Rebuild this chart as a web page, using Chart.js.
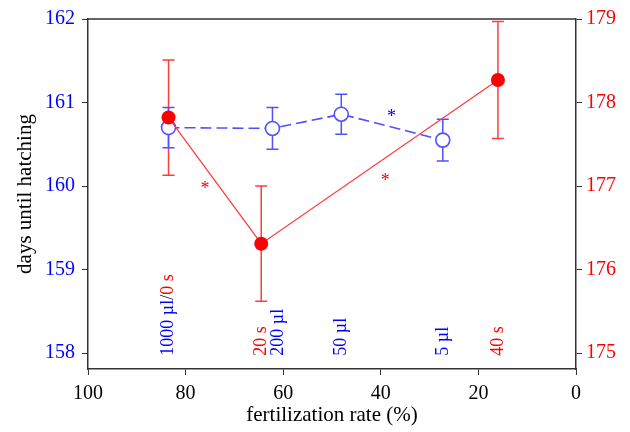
<!DOCTYPE html>
<html>
<head>
<meta charset="utf-8">
<script src="https://cdn.jsdelivr.net/npm/chart.js@4/dist/chart.umd.min.js"></script>
<style>
  body { margin: 0; background: #fff; }
  #wrap { width: 630px; height: 432px; }
</style>
</head>
<body>
<div id="wrap"><canvas id="hatchChart" width="630" height="432"></canvas></div>
<script>
// fertilization rate (%) and days until hatching
var fertBlue = [83.5, 62.2, 48.1, 27.3];
var daysBlue = [160.70, 160.69, 160.86, 160.55];
var errBlue = [0.24, 0.25, 0.24, 0.25];

var fertRed = [83.5, 64.5, 16.0];
var daysRed = [177.82, 176.31, 178.27];
var errRed = [0.69, 0.69, 0.70];

var xTicks = [100, 80, 60, 40, 20, 0];
var yTicksLeft = [158, 159, 160, 161, 162];
var yTicksRight = [175, 176, 177, 178, 179];

// rotated treatment labels (b = sperm volume, r = time, k = separator)
var labelX = [83.5, 64.5, 61.0, 48.1, 27.3, 16.0];
var labelText = [['1000 µl', '/', '0 s'], ['20 s'], ['200 µl'], ['50 µl'], ['5 µl'], ['40 s']];
var labelKind = [['b', 'k', 'r'], ['r'], ['b'], ['b'], ['b'], ['r']];

// significance asterisks
var starX = [76.0, 37.8, 39.1];
var starY = [160.01, 160.87, 160.11];
var starKind = ['r', 'b', 'r'];

var BLUE = '#0000ff';
var RED = '#ff0000';
var BLUE_LINE = 'rgb(80, 80, 255)';
var RED_LINE = 'rgb(255, 60, 60)';
var kindColor = { b: BLUE, r: RED, k: '#000' };
var serif = '"Liberation Serif", "DejaVu Serif", serif';

var toPoints = function (xs, ys) {
    return xs.map(function (x, i) { return { x: x, y: ys[i] }; });
};

var extras = {
    id: 'extras',
    beforeDatasetsDraw: function (chart) {
        var ctx = chart.ctx;
        var xs = chart.scales.x;
        var drawBars = function (xv, yv, ev, yScale, color) {
            ctx.save();
            ctx.strokeStyle = color;
            ctx.lineWidth = 1.5;
            for (var i = 0; i < xv.length; i++) {
                var px = xs.getPixelForValue(xv[i]);
                var top = yScale.getPixelForValue(yv[i] + ev[i]);
                var bot = yScale.getPixelForValue(yv[i] - ev[i]);
                ctx.beginPath();
                ctx.moveTo(px, top); ctx.lineTo(px, bot);
                ctx.moveTo(px - 6, top); ctx.lineTo(px + 6, top);
                ctx.moveTo(px - 6, bot); ctx.lineTo(px + 6, bot);
                ctx.stroke();
            }
            ctx.restore();
        };
        drawBars(fertRed, daysRed, errRed, chart.scales.yRight, RED_LINE);
        drawBars(fertBlue, daysBlue, errBlue, chart.scales.yLeft, BLUE_LINE);
    },
    afterDatasetsDraw: function (chart) {
        var ctx = chart.ctx;
        var a = chart.chartArea;
        var xs = chart.scales.x;
        var yl = chart.scales.yLeft;

        // top frame line
        ctx.save();
        ctx.strokeStyle = '#333';
        ctx.lineWidth = 1.5;
        ctx.beginPath();
        ctx.moveTo(a.left, a.top); ctx.lineTo(a.right, a.top);
        ctx.stroke();

        // rotated labels
        ctx.font = '18px ' + serif;
        ctx.textBaseline = 'middle';
        ctx.textAlign = 'left';
        var base = yl.getPixelForValue(157.97);
        for (var i = 0; i < labelX.length; i++) {
            ctx.save();
            ctx.translate(xs.getPixelForValue(labelX[i]), base);
            ctx.rotate(-Math.PI / 2);
            var off = 0;
            for (var j = 0; j < labelText[i].length; j++) {
                ctx.fillStyle = kindColor[labelKind[i][j]];
                ctx.fillText(labelText[i][j], off, 0);
                off += ctx.measureText(labelText[i][j]).width;
            }
            ctx.restore();
        }

        // asterisks
        ctx.font = '18px ' + serif;
        ctx.textAlign = 'center';
        for (var k = 0; k < starX.length; k++) {
            ctx.fillStyle = kindColor[starKind[k]];
            ctx.fillText('*', xs.getPixelForValue(starX[k]), yl.getPixelForValue(starY[k]) + 4);
        }
        ctx.restore();
    }
};

var setTicks = function (list) {
    return function (scale) {
        scale.ticks = list.map(function (v) { return { value: v }; });
    };
};

new Chart(document.getElementById('hatchChart'), {
    type: 'scatter',
    data: {
        datasets: [{
            label: 'time',
            data: toPoints(fertRed, daysRed),
            yAxisID: 'yRight',
            showLine: true,
            borderColor: RED_LINE,
            borderWidth: 1.3,
            pointRadius: 7,
            pointBackgroundColor: RED,
            pointBorderColor: RED,
            pointBorderWidth: 0
        }, {
            label: 'sperm volume',
            data: toPoints(fertBlue, daysBlue),
            yAxisID: 'yLeft',
            showLine: true,
            borderColor: BLUE_LINE,
            borderWidth: 1.6,
            borderDash: [11, 5],
            pointRadius: 7,
            pointBackgroundColor: '#fff',
            pointBorderColor: BLUE_LINE,
            pointBorderWidth: 1.6
        }]
    },
    options: {
        responsive: false,
        animation: false,
        layout: { padding: { top: 17, left: 0, right: 0, bottom: 0 } },
        plugins: { legend: { display: false }, tooltip: { enabled: false } },
        scales: {
            x: {
                type: 'linear',
                reverse: true,
                min: 0,
                max: 100,
                afterBuildTicks: setTicks(xTicks),
                afterFit: function (s) { s.height = 63; },
                grid: { drawOnChartArea: false, drawTicks: true, tickLength: 6, color: '#333' },
                border: { display: true, color: '#333', width: 1.5 },
                ticks: { color: '#000', font: { family: serif, size: 20 }, padding: 7, maxRotation: 0 },
                title: { display: true, text: 'fertilization rate (%)', color: '#000', font: { family: serif, size: 21 }, padding: { top: 2, bottom: 4 } }
            },
            yLeft: {
                type: 'linear',
                position: 'left',
                min: 157.81,
                max: 162,
                afterBuildTicks: setTicks(yTicksLeft),
                afterFit: function (s) { s.width = 88; },
                grid: { drawOnChartArea: false, drawTicks: true, tickLength: 6, color: '#333' },
                border: { display: true, color: '#333', width: 1.5 },
                ticks: { color: BLUE, font: { family: serif, size: 20 }, padding: 7 },
                title: { display: true, text: 'days until hatching', color: '#000', font: { family: serif, size: 21 }, padding: { top: 13 } }
            },
            yRight: {
                type: 'linear',
                position: 'right',
                min: 174.81,
                max: 179,
                afterBuildTicks: setTicks(yTicksRight),
                afterFit: function (s) { s.width = 54; },
                grid: { drawOnChartArea: false, drawTicks: true, tickLength: 6, color: '#333' },
                border: { display: true, color: '#333', width: 1.5 },
                ticks: { color: RED, font: { family: serif, size: 20 }, padding: 4 }
            }
        }
    },
    plugins: [extras]
});
</script>
</body>
</html>
